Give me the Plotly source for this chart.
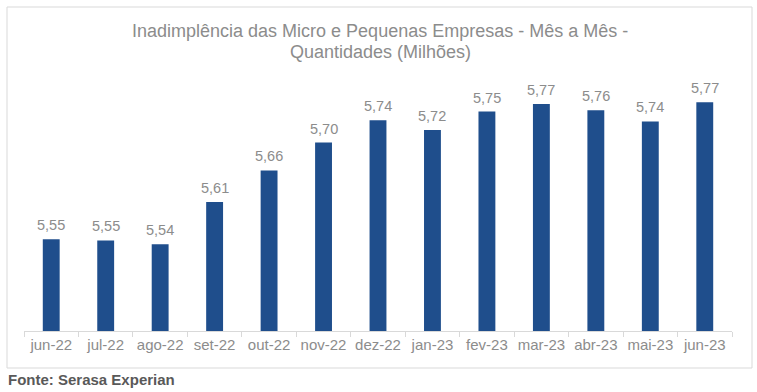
import plotly.graph_objects as go

categories = ["jun-22", "jul-22", "ago-22", "set-22", "out-22", "nov-22", "dez-22",
              "jan-23", "fev-23", "mar-23", "abr-23", "mai-23", "jun-23"]
values = [5.548, 5.546, 5.540, 5.608, 5.659, 5.704, 5.740,
          5.724, 5.754, 5.766, 5.756, 5.738, 5.769]
title_lines = ["Inadimplência das Micro e Pequenas Empresas - Mês a Mês -",
               "Quantidades (Milhões)"]
source_text = "Fonte: Serasa Experian"

FONT = "Arial, 'Liberation Sans', sans-serif"
BAR = "#1F4E8C"
GRAY = "#8C8C8C"

W, H = 757, 392
L, R, T, B = 24, 25, 83, 61
pw, ph = W - L - R, H - T - B

def px_x(p):
    return (p - L) / pw

def px_y(p):
    return (H - B - p) / ph

fig = go.Figure()
fig.add_trace(go.Bar(x=categories, y=values, marker=dict(color=BAR, line=dict(width=0)),
                     hoverinfo="skip"))

annotations = []
for c, v in zip(categories, values):
    annotations.append(dict(x=c, y=v, xref="x", yref="y", text=f"{v:.2f}".replace(".", ","),
                            showarrow=False, yanchor="bottom", yshift=4,
                            font=dict(family=FONT, size=14.5, color=GRAY)))
for line, py in zip(title_lines, [31.5, 52.5]):
    annotations.append(dict(x=px_x(380), y=px_y(py), xref="paper", yref="paper", text=line,
                            showarrow=False, xanchor="center", yanchor="middle",
                            font=dict(family=FONT, size=18, color=GRAY)))
annotations.append(dict(x=px_x(6), y=px_y(379), xref="paper", yref="paper", text=f"<b>{source_text}</b>",
                        showarrow=False, xanchor="left", yanchor="middle",
                        font=dict(family=FONT, size=15, color="#595959")))

fig.update_layout(
    width=W, height=H,
    margin=dict(l=L, r=R, t=T, b=B),
    paper_bgcolor="white", plot_bgcolor="white",
    separators=",.",
    showlegend=False,
    bargap=0.69,
    xaxis=dict(showline=True, linecolor="#D9D9D9", linewidth=1, ticks="outside",
               tickson="boundaries", ticklen=5, tickcolor="#D9D9D9", tickangle=0,
               tickfont=dict(family=FONT, size=15, color=GRAY), showgrid=False,
               fixedrange=True),
    yaxis=dict(range=[5.40, 5.80], visible=False, showgrid=False, fixedrange=True),
    annotations=annotations,
    shapes=[dict(type="rect", xref="paper", yref="paper",
                 x0=px_x(7), x1=px_x(752), y0=px_y(368), y1=px_y(7),
                 line=dict(color="#D9D9D9", width=1), fillcolor="rgba(0,0,0,0)", layer="below")],
)

fig.write_html("out.html", config={"displayModeBar": False},
               post_script="document.body.style.margin='0';document.body.style.overflow='hidden';")
